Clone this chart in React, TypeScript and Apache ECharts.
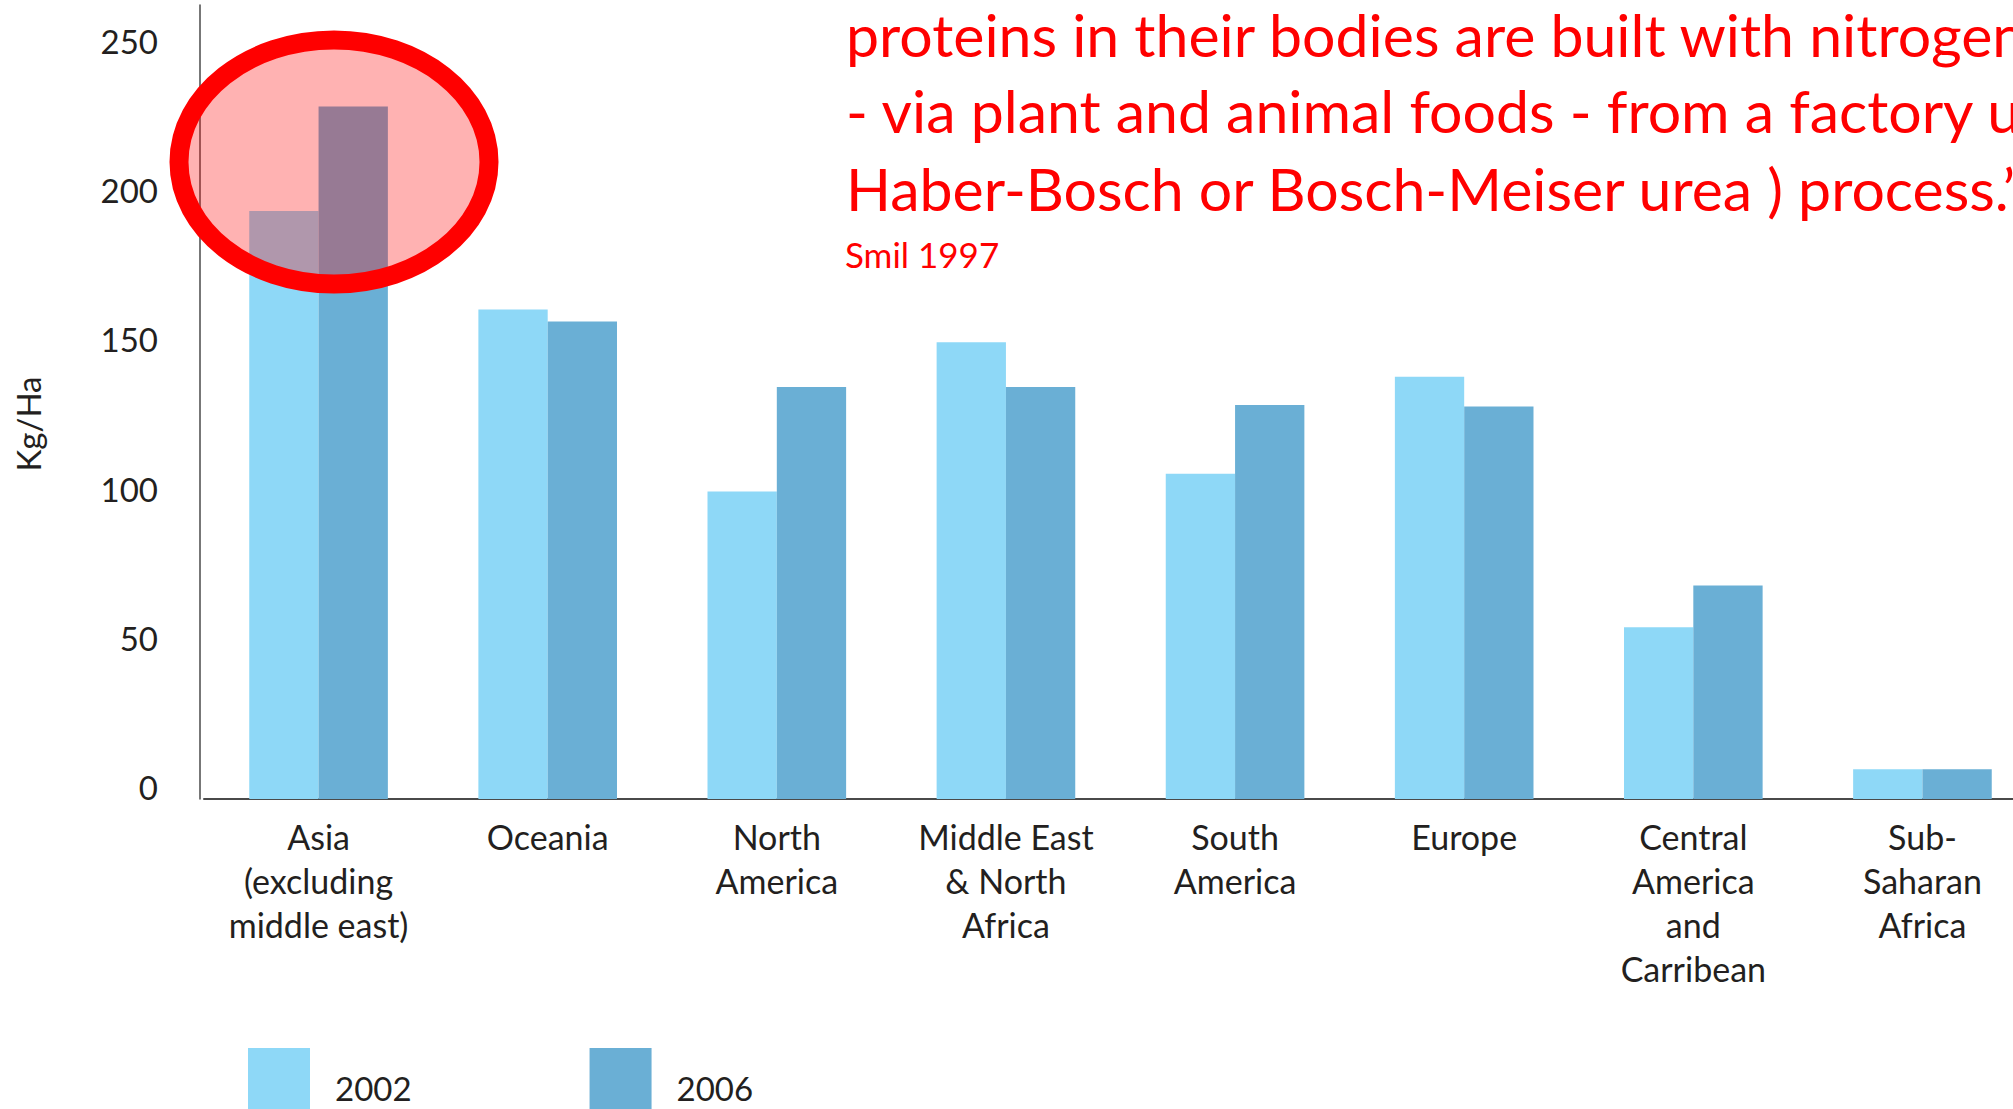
import React, { useEffect, useRef } from "react";
import * as echarts from "echarts";

const categories = [
  "Asia\n(excluding\nmiddle east)",
  "Oceania",
  "North\nAmerica",
  "Middle East\n& North\nAfrica",
  "South\nAmerica",
  "Europe",
  "Central\nAmerica\nand\nCarribean",
  "Sub-\nSaharan\nAfrica",
];
const seriesNames = ["2002", "2006"];
const values2002 = [197, 164, 103, 153, 109, 141.5, 57.5, 10];
const values2006 = [232, 160, 138, 138, 132, 131.5, 71.5, 10];
const yMin = 0;
const yMax = 266;
const yInterval = 50;
const yAxisTitle = "Kg/Ha";
const quoteLines = [
  "proteins in their bodies are built with nitrogen",
  "- via plant and animal foods - from a factory using",
  "Haber-Bosch or Bosch-Meiser urea ) process.\u2019",
];
const quoteSource = "Smil 1997";

const TEXT = "#231F20";
const C2002 = "#8ED8F7";
const C2006 = "#6AAFD5";

export default function App() {
  const ref = useRef<HTMLDivElement | null>(null);
  useEffect(() => {
    if (!ref.current) return;
    const chart = echarts.init(ref.current, null, { renderer: "svg" });
    const lineCenters = [34, 110, 188];
    chart.setOption({
      animation: false,
      backgroundColor: "#ffffff",
      textStyle: { fontFamily: "Lato" },
      grid: { left: 204, right: 23, top: 5, bottom: 310, containLabel: false },
      legend: {
        left: 248,
        top: 1048,
        padding: 0,
        icon: "rect",
        itemWidth: 62,
        itemHeight: 80,
        itemGap: 178,
        selectedMode: false,
        data: seriesNames,
        textStyle: { fontFamily: "Lato", fontSize: 33, color: TEXT, padding: [0, 0, 0, 20] },
      },
      xAxis: {
        type: "category",
        data: categories,
        axisLine: { show: true, lineStyle: { color: "#4a4a4a", width: 2 } },
        axisTick: { show: false },
        axisLabel: {
          interval: 0,
          margin: 15,
          fontFamily: "Lato",
          fontSize: 34,
          lineHeight: 44,
          color: TEXT,
          verticalAlign: "top",
        },
        splitLine: { show: false },
      },
      yAxis: {
        type: "value",
        min: yMin,
        max: yMax,
        interval: yInterval,
        offset: 4,
        axisLine: { show: true, lineStyle: { color: "#4a4a4a", width: 1.5 } },
        axisTick: { show: false },
        splitLine: { show: false },
        axisLabel: {
          showMaxLabel: false,
          margin: 42,
          fontFamily: "Lato",
          fontSize: 33,
          color: TEXT,
          verticalAlign: "bottom",
          lineHeight: 24,
        },
      },
      series: [
        {
          name: seriesNames[0],
          type: "bar",
          data: values2002,
          barGap: "0%",
          barCategoryGap: "39.5%",
          itemStyle: { color: C2002 },
        },
        {
          name: seriesNames[1],
          type: "bar",
          data: values2006,
          barGap: "0%",
          barCategoryGap: "39.5%",
          itemStyle: { color: C2006 },
        },
      ],
      graphic: [
        {
          type: "text",
          x: 28,
          y: 424,
          rotation: Math.PI / 2,
          style: {
            text: yAxisTitle,
            fontFamily: "Lato",
            fontSize: 33,
            fill: TEXT,
            align: "center",
            verticalAlign: "middle",
          },
        },
        {
          type: "ellipse",
          z: 100,
          shape: { cx: 334, cy: 162, rx: 155, ry: 122 },
          style: { fill: "rgba(255,0,0,0.3)", stroke: "#FF0000", lineWidth: 19 },
        },
        ...quoteLines.map((t, i) => ({
          type: "text",
          z: 100,
          x: 846,
          y: lineCenters[i],
          style: {
            text: t,
            fontFamily: "Lato",
            fontSize: 59,
            fill: "#FF0000",
            align: "left",
            verticalAlign: "middle",
          },
        })),
        {
          type: "text",
          z: 100,
          x: 845,
          y: 254,
          style: {
            text: quoteSource,
            fontFamily: "Lato",
            fontSize: 35,
            fill: "#FF0000",
            align: "left",
            verticalAlign: "middle",
          },
        },
      ],
    });
    return () => chart.dispose();
  }, []);
  return (
    <div
      style={{
        position: "fixed",
        left: 0,
        top: 0,
        width: 2013,
        height: 1109,
        overflow: "hidden",
        background: "#fff",
      }}
    >
      <div ref={ref} style={{ width: 2060, height: 1109 }} />
    </div>
  );
}
